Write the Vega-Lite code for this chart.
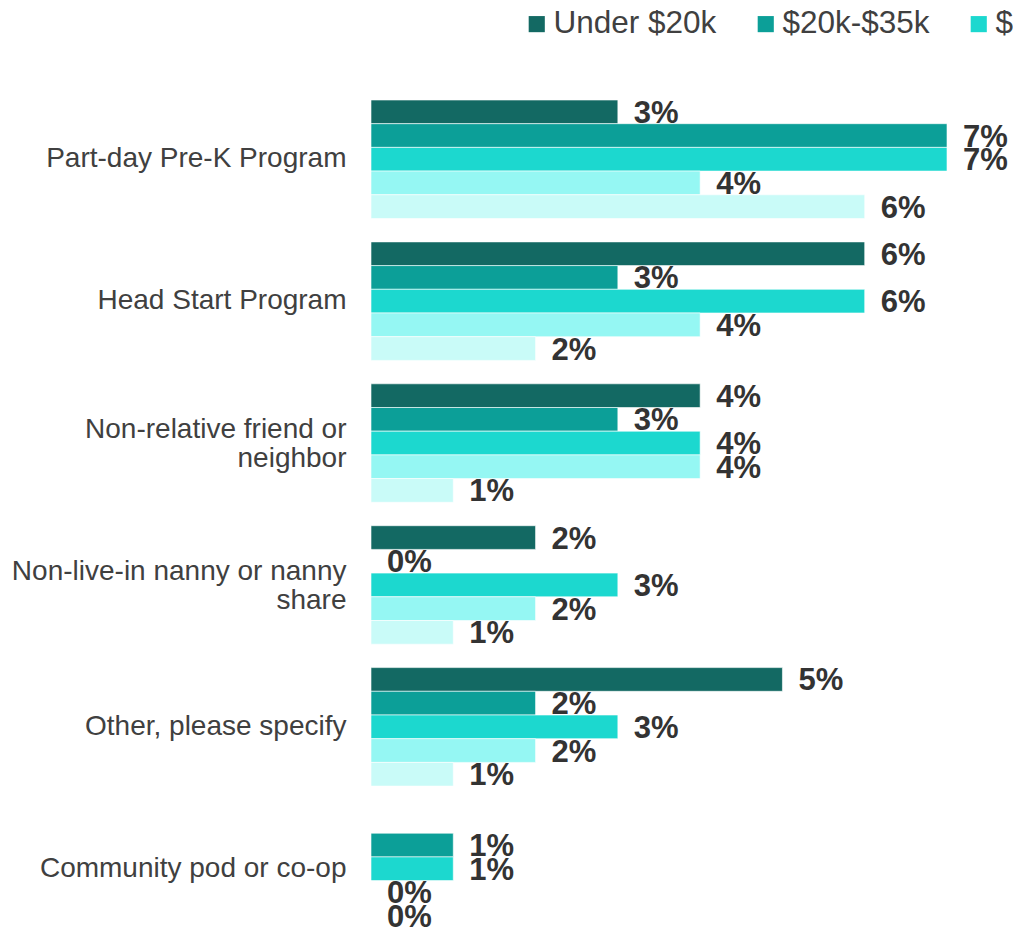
{
  "$schema": "https://vega.github.io/schema/vega-lite/v6.json",
  "autosize": {"type": "none"},
  "padding": {"left": 371, "top": 100, "right": 66, "bottom": 2},
  "width": 576,
  "height": 828,
  "background": "white",
  "config": {
    "view": {"stroke": null},
    "font": "Liberation Sans"
  },
  "data": {
    "values": [
      {"category": "Part-day Pre-K Program", "income": "Under $20k", "value": 0.03},
      {"category": "Part-day Pre-K Program", "income": "$20k-$35k", "value": 0.07},
      {"category": "Part-day Pre-K Program", "income": "$35k-$50k", "value": 0.07},
      {"category": "Part-day Pre-K Program", "income": "$50k-$75k", "value": 0.04},
      {"category": "Part-day Pre-K Program", "income": "$75k+", "value": 0.06},
      {"category": "Head Start Program", "income": "Under $20k", "value": 0.06},
      {"category": "Head Start Program", "income": "$20k-$35k", "value": 0.03},
      {"category": "Head Start Program", "income": "$35k-$50k", "value": 0.06},
      {"category": "Head Start Program", "income": "$50k-$75k", "value": 0.04},
      {"category": "Head Start Program", "income": "$75k+", "value": 0.02},
      {"category": "Non-relative friend or neighbor", "income": "Under $20k", "value": 0.04},
      {"category": "Non-relative friend or neighbor", "income": "$20k-$35k", "value": 0.03},
      {"category": "Non-relative friend or neighbor", "income": "$35k-$50k", "value": 0.04},
      {"category": "Non-relative friend or neighbor", "income": "$50k-$75k", "value": 0.04},
      {"category": "Non-relative friend or neighbor", "income": "$75k+", "value": 0.01},
      {"category": "Non-live-in nanny or nanny share", "income": "Under $20k", "value": 0.02},
      {"category": "Non-live-in nanny or nanny share", "income": "$20k-$35k", "value": 0.0},
      {"category": "Non-live-in nanny or nanny share", "income": "$35k-$50k", "value": 0.03},
      {"category": "Non-live-in nanny or nanny share", "income": "$50k-$75k", "value": 0.02},
      {"category": "Non-live-in nanny or nanny share", "income": "$75k+", "value": 0.01},
      {"category": "Other, please specify", "income": "Under $20k", "value": 0.05},
      {"category": "Other, please specify", "income": "$20k-$35k", "value": 0.02},
      {"category": "Other, please specify", "income": "$35k-$50k", "value": 0.03},
      {"category": "Other, please specify", "income": "$50k-$75k", "value": 0.02},
      {"category": "Other, please specify", "income": "$75k+", "value": 0.01},
      {"category": "Community pod or co-op", "income": "$20k-$35k", "value": 0.01},
      {"category": "Community pod or co-op", "income": "$35k-$50k", "value": 0.01},
      {"category": "Community pod or co-op", "income": "$50k-$75k", "value": 0.0},
      {"category": "Community pod or co-op", "income": "$75k+", "value": 0.0}
    ]
  },
  "encoding": {
    "y": {
      "field": "category",
      "type": "nominal",
      "sort": ["Part-day Pre-K Program", "Head Start Program", "Non-relative friend or neighbor", "Non-live-in nanny or nanny share", "Other, please specify", "Community pod or co-op"],
      "scale": {"paddingInner": 0.165, "paddingOuter": 0},
      "axis": {
        "title": null,
        "domain": false,
        "ticks": false,
        "labelPadding": 25,
        "labelFontSize": 28,
        "labelColor": "#404040",
        "labelFont": "Liberation Sans",
        "labelLimit": 400,
        "labelLineHeight": 29,
        "labelOffset": {"condition": {"test": "indexof(datum.value, 'Non-') == 0", "value": -13}, "value": 0},
        "labelExpr": "datum.label == 'Non-relative friend or neighbor' ? ['Non-relative friend or', 'neighbor'] : datum.label == 'Non-live-in nanny or nanny share' ? ['Non-live-in nanny or nanny', 'share'] : datum.label"
      }
    },
    "yOffset": {
      "field": "income",
      "type": "nominal",
      "sort": ["Under $20k", "$20k-$35k", "$35k-$50k", "$50k-$75k", "$75k+"],
      "scale": {"paddingInner": 0, "paddingOuter": 0}
    },
    "x": {
      "field": "value",
      "type": "quantitative",
      "scale": {"domain": [0, 0.07], "nice": false, "zero": true},
      "axis": null
    }
  },
  "layer": [
    {
      "mark": {"type": "bar", "stroke": "white", "strokeWidth": 0.6, "clip": false},
      "encoding": {
        "color": {
          "field": "income",
          "type": "nominal",
          "sort": ["Under $20k", "$20k-$35k", "$35k-$50k", "$50k-$75k", "$75k+"],
          "scale": {
            "domain": ["Under $20k", "$20k-$35k", "$35k-$50k", "$50k-$75k", "$75k+"],
            "range": ["#136963", "#0c9f98", "#1cd8cf", "#95f7f3", "#c9fbf8"]
          },
          "legend": {
            "title": null,
            "orient": "none",
            "direction": "horizontal",
            "columns": 5,
            "legendX": 150,
            "legendY": -92,
            "padding": 0,
            "symbolType": "square",
            "symbolSize": 260,
            "symbolStrokeWidth": 0,
            "symbolOpacity": 1,
            "labelFontSize": 31.5,
            "labelFont": "Liberation Sans",
            "labelColor": "#404040",
            "labelOffset": 1,
            "columnPadding": 33,
            "labelLimit": 400
          }
        }
      }
    },
    {
      "mark": {"type": "text", "align": "left", "baseline": "middle", "dx": 16, "dy": 2, "fontSize": 31, "fontWeight": "bold", "color": "#333333", "font": "Liberation Sans", "clip": false},
      "encoding": {
        "text": {"field": "value", "type": "quantitative", "format": ".0%"}
      }
    }
  ]
}
